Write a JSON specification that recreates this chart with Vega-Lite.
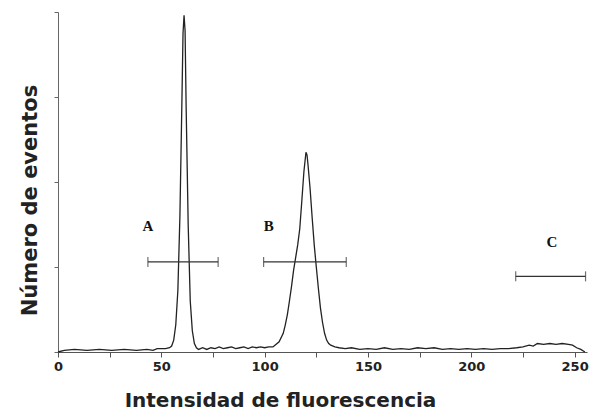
{
  "$schema": "https://vega.github.io/schema/vega-lite/v6.json",
  "width": 529,
  "height": 340,
  "autosize": {"type": "none"},
  "padding": {"left": 58, "top": 12, "right": 11, "bottom": 60},
  "background": "white",
  "config": {"view": {"stroke": null}, "font": "DejaVu Sans"},
  "datasets": {
    "hist": [
      {"x": 0, "y": 0}, {"x": 3, "y": 2}, {"x": 8, "y": 3}, {"x": 14, "y": 2}, {"x": 20, "y": 3}, {"x": 26, "y": 2},
      {"x": 32, "y": 3}, {"x": 38, "y": 2}, {"x": 43, "y": 3}, {"x": 46, "y": 2}, {"x": 48, "y": 4}, {"x": 50, "y": 4},
      {"x": 52, "y": 4}, {"x": 54, "y": 5}, {"x": 55, "y": 7}, {"x": 56, "y": 14}, {"x": 57, "y": 32}, {"x": 58, "y": 72},
      {"x": 59, "y": 160}, {"x": 60, "y": 300}, {"x": 60.5, "y": 375}, {"x": 61, "y": 396}, {"x": 61.5, "y": 378},
      {"x": 62, "y": 290}, {"x": 63, "y": 150}, {"x": 64, "y": 60}, {"x": 65, "y": 25}, {"x": 66, "y": 10}, {"x": 67, "y": 5},
      {"x": 68, "y": 3}, {"x": 70, "y": 5}, {"x": 72, "y": 3}, {"x": 74, "y": 5}, {"x": 76, "y": 4}, {"x": 78, "y": 6},
      {"x": 80, "y": 4}, {"x": 82, "y": 5}, {"x": 84, "y": 6}, {"x": 86, "y": 4}, {"x": 88, "y": 5}, {"x": 90, "y": 6},
      {"x": 92, "y": 4}, {"x": 94, "y": 6}, {"x": 96, "y": 5}, {"x": 98, "y": 6}, {"x": 100, "y": 5}, {"x": 102, "y": 6},
      {"x": 104, "y": 6}, {"x": 105, "y": 8}, {"x": 107, "y": 12}, {"x": 109, "y": 22}, {"x": 110, "y": 32},
      {"x": 111, "y": 44}, {"x": 112, "y": 60}, {"x": 113, "y": 77}, {"x": 114, "y": 96}, {"x": 115, "y": 111},
      {"x": 116, "y": 126}, {"x": 117, "y": 145}, {"x": 118, "y": 178}, {"x": 119, "y": 212}, {"x": 120, "y": 235},
      {"x": 120.5, "y": 232}, {"x": 121, "y": 220}, {"x": 122, "y": 192}, {"x": 123, "y": 158}, {"x": 124, "y": 126},
      {"x": 125, "y": 100}, {"x": 126, "y": 75}, {"x": 127, "y": 52}, {"x": 128, "y": 35}, {"x": 129, "y": 22},
      {"x": 130, "y": 14}, {"x": 131, "y": 10}, {"x": 132, "y": 8}, {"x": 134, "y": 6}, {"x": 136, "y": 5},
      {"x": 139, "y": 4}, {"x": 142, "y": 5}, {"x": 146, "y": 3}, {"x": 150, "y": 4}, {"x": 154, "y": 3}, {"x": 158, "y": 5},
      {"x": 162, "y": 3}, {"x": 166, "y": 4}, {"x": 170, "y": 3}, {"x": 174, "y": 5}, {"x": 178, "y": 4}, {"x": 182, "y": 5},
      {"x": 186, "y": 3}, {"x": 190, "y": 4}, {"x": 194, "y": 3}, {"x": 198, "y": 4}, {"x": 202, "y": 3}, {"x": 206, "y": 4},
      {"x": 210, "y": 3}, {"x": 214, "y": 4}, {"x": 218, "y": 4}, {"x": 222, "y": 5}, {"x": 225, "y": 6}, {"x": 228, "y": 8},
      {"x": 230, "y": 7}, {"x": 232, "y": 10}, {"x": 235, "y": 9}, {"x": 238, "y": 10}, {"x": 241, "y": 9}, {"x": 244, "y": 10},
      {"x": 247, "y": 9}, {"x": 249, "y": 8}, {"x": 251, "y": 5}, {"x": 253, "y": 3}, {"x": 255, "y": 0}
    ],
    "gates": [
      {"g": "A", "x1": 43.5, "x2": 77.5, "y": 106, "lx": 43.5, "ly": 148},
      {"g": "B", "x1": 99.5, "x2": 139.5, "y": 106, "lx": 102, "ly": 148},
      {"g": "C", "x1": 221.5, "x2": 255.3, "y": 89, "lx": 239, "ly": 130}
    ],
    "caps": [
      {"x": 43.5, "y": 106}, {"x": 77.5, "y": 106},
      {"x": 99.5, "y": 106}, {"x": 139.5, "y": 106},
      {"x": 221.5, "y": 89}, {"x": 255.3, "y": 89}
    ]
  },
  "layer": [
    {
      "data": {"name": "hist"},
      "mark": {"type": "line", "color": "#222", "strokeWidth": 1.3, "interpolate": "linear"},
      "encoding": {
        "x": {
          "field": "x", "type": "quantitative",
          "scale": {"domain": [0, 256], "nice": false},
          "axis": {
            "title": "Intensidad de fluorescencia",
            "values": [0, 25, 50, 75, 100, 125, 150, 175, 200, 225, 250],
            "labelExpr": "datum.value % 50 === 0 ? datum.label : ''",
            "grid": false, "domainColor": "#555", "tickColor": "#555", "tickSize": 5,
            "labelFont": "DejaVu Sans", "labelFontSize": 13, "labelFontWeight": "bold", "labelColor": "#222",
            "labelPadding": 3, "labelFlush": false,
            "titleFont": "DejaVu Sans", "titleFontSize": 20, "titleFontWeight": "bold", "titleColor": "#222",
            "titleX": 222, "titleY": 48, "titleBaseline": "middle", "titleAnchor": "middle"
          }
        },
        "y": {
          "field": "y", "type": "quantitative",
          "scale": {"domain": [0, 400], "nice": false},
          "axis": {
            "title": "Número de eventos",
            "values": [0, 100, 200, 300, 400],
            "labels": false, "grid": false, "domainColor": "#666", "tickColor": "#666", "tickSize": 4,
            "titleFont": "DejaVu Sans", "titleFontSize": 21, "titleFontWeight": "bold", "titleColor": "#222",
            "titleX": -28, "titleY": 188, "titleBaseline": "middle", "titleAnchor": "middle"
          }
        }
      }
    },
    {
      "data": {"name": "gates"},
      "mark": {"type": "rule", "color": "#333", "strokeWidth": 1.2},
      "encoding": {
        "x": {"field": "x1", "type": "quantitative"},
        "x2": {"field": "x2"},
        "y": {"field": "y", "type": "quantitative"}
      }
    },
    {
      "data": {"name": "caps"},
      "mark": {"type": "tick", "orient": "vertical", "color": "#333", "thickness": 1.2, "size": 10},
      "encoding": {
        "x": {"field": "x", "type": "quantitative"},
        "y": {"field": "y", "type": "quantitative"}
      }
    },
    {
      "data": {"name": "gates"},
      "mark": {"type": "text", "font": "Liberation Serif", "fontWeight": "bold", "fontSize": 15, "color": "#111"},
      "encoding": {
        "x": {"field": "lx", "type": "quantitative"},
        "y": {"field": "ly", "type": "quantitative"},
        "text": {"field": "g"}
      }
    }
  ]
}
